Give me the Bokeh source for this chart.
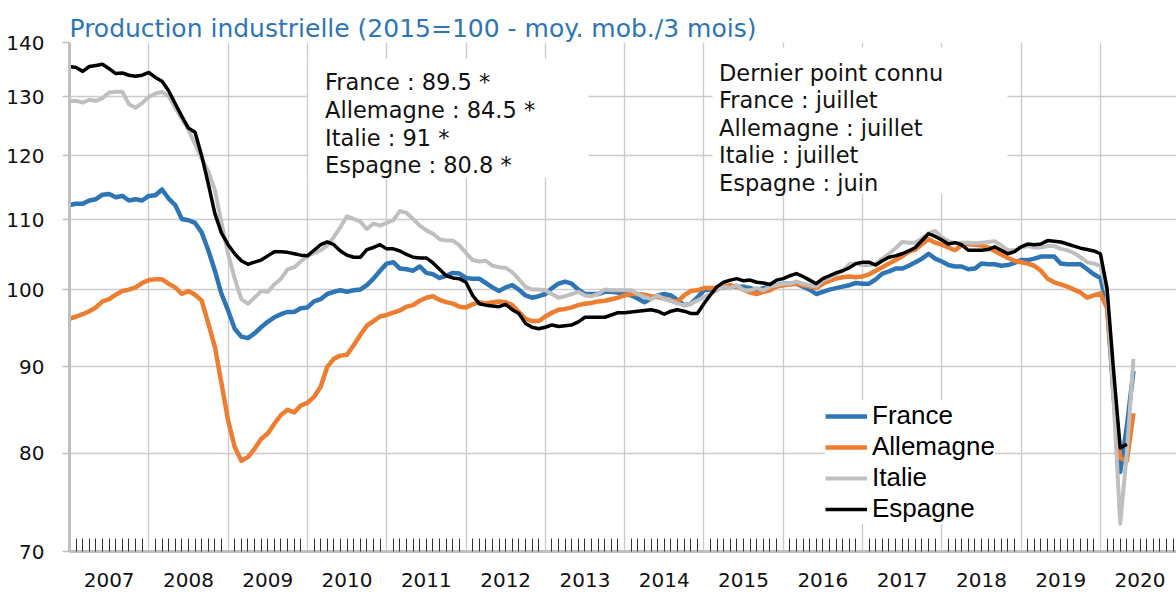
from bokeh.plotting import figure
from bokeh.models import (Range1d, FixedTicker, NumeralTickFormatter, BoxAnnotation,
                          Label, Legend, LegendItem)
from bokeh.embed import file_html
from bokeh.resources import INLINE

# ---------------- data ----------------
first_year = 2007
years = list(range(2007, 2021))
year_labels = [str(y) for y in years]
y_ticks = [70, 80, 90, 100, 110, 120, 130, 140]

france = [
    112.2, 112.4, 112.4, 112.9, 113.1, 113.8, 113.9, 113.4, 113.6, 112.9, 113.1, 112.9,
    113.6, 113.7, 114.6, 113.2, 112.2, 110.1, 109.9, 109.5, 108.1, 105.5, 102.6, 99.4,
    97.2, 94.8, 93.8, 93.6, 94.2, 95.0, 95.7, 96.3, 96.7, 97.0, 97.0, 97.5,
    97.6, 98.4, 98.7, 99.4, 99.7, 99.9, 99.7, 99.9, 100.0, 100.6, 101.5, 102.6,
    103.6, 103.8, 102.9, 102.8, 102.6, 103.2, 102.3, 102.1, 101.6, 101.9, 102.3, 102.2,
    101.6, 101.5, 101.5, 100.9, 100.3, 99.8, 100.3, 100.6, 100.0, 99.2, 98.9, 99.1,
    99.4, 100.2, 100.8, 101.1, 100.8, 100.0, 99.4, 99.4, 99.4, 99.7, 99.7, 99.6,
    99.4, 99.2, 98.8, 98.3, 98.8, 99.2, 99.4, 99.2, 98.6, 97.9, 98.1, 98.9,
    99.9, 100.0, 100.2, 100.3, 100.4, 100.4, 100.4, 100.2, 100.0, 100.2, 100.4, 100.6,
    100.8, 100.8, 100.8, 100.4, 100.0, 99.4, 99.7, 100.0, 100.2, 100.4, 100.6, 100.9,
    100.8, 100.8, 101.4, 102.2, 102.5, 102.9, 102.9, 103.3, 103.8, 104.3, 105.0, 104.3,
    103.9, 103.4, 103.2, 103.2, 102.8, 102.9, 103.6, 103.5, 103.5, 103.3, 103.4, 103.7,
    104.1, 104.1, 104.3, 104.6, 104.6, 104.6, 103.6, 103.5, 103.5, 103.5, 102.8, 102.1,
    101.6, 98.0, 86.5, 78.0, 83.0, 89.5,
]

allemagne = [
    96.1, 96.4, 96.7, 97.1, 97.6, 98.4, 98.7, 99.3, 99.8, 100.0, 100.3, 100.9,
    101.3, 101.4, 101.4, 100.8, 100.3, 99.4, 99.8, 99.3, 98.5, 95.5, 92.5, 88.0,
    83.7, 80.7, 79.2, 79.6, 80.5, 81.6, 82.2, 83.3, 84.3, 84.9, 84.6, 85.4,
    85.7, 86.4, 87.6, 90.0, 91.0, 91.4, 91.5, 92.7, 94.0, 95.2, 95.8, 96.4,
    96.6, 96.9, 97.2, 97.7, 97.9, 98.5, 98.9, 99.1, 98.6, 98.3, 98.1, 97.7,
    97.6, 98.0, 98.3, 98.1, 98.3, 98.4, 98.3, 97.9, 97.0, 96.1, 95.8, 95.8,
    96.4, 96.9, 97.3, 97.4, 97.6, 97.9, 98.1, 98.2, 98.4, 98.5, 98.7, 98.9,
    99.2, 99.4, 99.4, 99.3, 99.1, 99.0, 98.8, 98.5, 98.4, 99.2, 99.8, 99.9,
    100.2, 100.2, 100.2, 100.4, 100.6, 100.4, 100.0, 99.6, 99.4, 99.7, 99.9, 100.4,
    100.6, 100.7, 100.8, 100.6, 100.4, 100.2, 100.8, 101.2, 101.5, 101.7, 101.8, 101.7,
    101.8, 102.1, 102.6, 103.1, 103.6, 104.1, 104.6, 105.3, 105.6, 106.4, 107.1, 106.6,
    106.3, 105.9, 105.5, 106.2, 106.4, 106.3, 106.2, 105.9, 105.4, 104.9, 104.4, 104.0,
    103.8, 103.6, 103.3, 102.6, 101.5, 101.0, 100.7, 100.4, 100.0, 99.6, 98.9, 99.2,
    99.5, 97.5, 87.5, 79.5, 79.2, 84.5,
]

italie = [
    129.3, 129.3, 129.0, 129.5, 129.3, 129.8, 130.8, 130.9, 130.9, 128.7, 128.1, 128.9,
    130.0, 130.6, 130.9, 130.1, 128.1, 126.2, 124.3, 121.9, 119.5, 117.5, 114.5, 109.5,
    105.0, 101.5, 98.7, 98.1, 98.9, 99.8, 99.7, 100.7, 101.5, 102.8, 103.1, 103.9,
    104.7, 105.1, 105.5, 106.2, 107.4, 108.9, 110.5, 110.1, 109.7, 108.6, 109.4, 109.1,
    109.5, 109.9, 111.3, 111.0, 110.1, 109.1, 108.4, 107.9, 107.1, 106.9, 106.9, 106.2,
    105.1, 104.1, 103.9, 104.0, 103.3, 103.1, 103.0, 102.4, 101.4, 100.4, 100.0, 100.0,
    99.9, 99.4, 98.9, 99.1, 99.4, 99.7, 99.2, 99.1, 99.4, 100.0, 99.9, 99.9,
    99.9, 99.9, 99.4, 99.0, 98.7, 99.2, 98.7, 98.5, 98.1, 97.9, 98.1, 98.5,
    99.0, 99.4, 99.9, 100.4, 100.2, 100.6, 99.9, 99.9, 100.2, 99.9, 100.4, 100.6,
    100.8, 100.8, 101.1, 100.8, 100.6, 100.4, 101.3, 101.6, 102.1, 102.6, 103.5, 103.6,
    103.4, 103.4, 103.6, 104.3, 105.0, 105.8, 106.7, 106.6, 106.6, 107.2, 108.0, 108.3,
    107.4, 106.8, 106.5, 106.6, 106.6, 106.5, 106.6, 106.7, 106.8, 106.2, 105.5, 105.5,
    105.9, 106.1, 105.9, 105.9, 106.1, 106.1, 105.7, 105.5, 105.1, 104.5, 103.8, 103.6,
    103.3, 99.5, 86.0, 72.7, 80.0, 91.0,
]

espagne = [
    135.5, 135.3, 134.6, 135.5, 135.7, 135.9, 135.1, 134.2, 134.3, 133.9, 133.7, 133.9,
    134.4, 133.5, 132.8, 131.1, 128.8, 126.6, 124.6, 123.9, 120.0, 115.5, 110.9, 108.0,
    106.3, 105.0, 104.0, 103.5, 103.8, 104.1, 104.7, 105.3, 105.3, 105.2, 105.0, 104.8,
    104.7, 105.5, 106.3, 106.7, 106.3, 105.4, 104.8, 104.5, 104.5, 105.6, 105.9, 106.3,
    105.7, 105.7, 105.4, 104.9, 104.5, 104.4, 104.4, 103.7, 102.8, 101.9, 101.6, 101.5,
    101.0, 99.2, 98.1, 97.9, 97.8, 97.7, 98.0, 97.3, 96.8, 95.5, 95.0, 94.8,
    95.0, 95.3, 95.1, 95.2, 95.3, 95.7, 96.3, 96.3, 96.3, 96.3, 96.6, 96.9,
    96.9, 97.0, 97.1, 97.2, 97.3, 97.1, 96.7, 97.1, 97.3, 97.1, 96.8, 96.8,
    98.1, 99.3, 100.4, 101.0, 101.3, 101.5, 101.2, 101.3, 101.0, 100.9, 100.7, 101.3,
    101.5, 101.9, 102.2, 101.8, 101.3, 100.8, 101.5, 101.9, 102.3, 102.6, 103.0, 103.6,
    103.8, 103.8, 103.4, 104.0, 104.5, 104.7, 105.0, 105.4, 105.9, 106.9, 107.9, 107.5,
    107.0, 106.4, 106.6, 106.3, 105.5, 105.5, 105.5, 105.6, 106.0, 105.5, 105.0, 105.3,
    106.0, 106.4, 106.3, 106.4, 106.9, 106.8, 106.7, 106.4, 106.1, 105.8, 105.6, 105.4,
    105.0, 100.2, 89.5, 80.6, 81.0,
]

series_names = ["France", "Allemagne", "Italie", "Espagne"]
series_values = [france, allemagne, italie, espagne]
series_colors = ["#2E75B6", "#ED7D31", "#BFBFBF", "#000000"]
series_widths = [4.5, 4.5, 4.0, 3.5]

title_text = "Production industrielle (2015=100 - moy. mob./3 mois)"
note_values = ["France : 89.5 *", "Allemagne : 84.5 *", "Italie : 91 *", "Espagne : 80.8 *"]
note_last = ["Dernier point connu", "France : juillet", "Allemagne : juillet",
             "Italie : juillet", "Espagne : juin"]

# ---------------- layout ----------------
FONT = "DejaVu Sans"
GRID = "#CBCBCB"
AXIS = "#BFBFBF"

W, H = 1176, 596
PAGE_L, PAGE_R, PAGE_T, PAGE_B = 69, 1176, 42, 551
YEAR_PX = 79.3
X0 = 2007
X1 = X0 + (PAGE_R - PAGE_L) / YEAR_PX
Y0, Y1 = 70, 140


def px_x(px):
    return X0 + (px - PAGE_L) / (PAGE_R - PAGE_L) * (X1 - X0)


def py_y(py):
    return Y1 * (Y0 / Y1) ** ((py - PAGE_T) / (PAGE_B - PAGE_T))


def month_x(n):
    return [first_year + i / 12 for i in range(n)]


p = figure(width=W, height=H, output_backend="svg", toolbar_location=None,
           y_axis_type="log", x_range=Range1d(X0, X1), y_range=Range1d(Y0, Y1),
           min_border_left=PAGE_L, min_border_right=W - PAGE_R,
           min_border_top=PAGE_T, min_border_bottom=H - PAGE_B)
p.outline_line_color = None
p.background_fill_color = "white"
p.border_fill_color = "white"

# title
p.title.text = title_text
p.title.text_font = FONT
p.title.text_font_size = "25px"
p.title.text_font_style = "normal"
p.title.text_color = "#2E75B6"
p.title.align = "left"
p.title.standoff = 0
p.title.offset = 0

# grids
p.xgrid.ticker = FixedTicker(ticks=years[1:])
p.ygrid.ticker = FixedTicker(ticks=y_ticks)
for g in (p.xgrid[0], p.ygrid[0]):
    g.grid_line_color = GRID
    g.grid_line_width = 1.4

# x axis: labels centred in each year, monthly marks inside the plot
months = [first_year + i / 12 for i in range(1, 168) if i % 12 != 0]
xa = p.xaxis[0]
xa.ticker = FixedTicker(ticks=[y + 0.5 for y in years], minor_ticks=months)
xa.major_label_overrides = {y + 0.5: lab for y, lab in zip(years, year_labels)}
xa.major_tick_in = 0
xa.major_tick_out = 0
xa.minor_tick_in = 13
xa.minor_tick_out = 0
xa.minor_tick_line_color = "#333333"
xa.minor_tick_line_width = 1
xa.axis_line_color = AXIS
xa.axis_line_width = 3
xa.major_label_standoff = 21
xa.major_label_text_font = FONT
xa.major_label_text_font_size = "20px"
xa.major_label_text_color = "#111111"

# year separators below the axis
for y in years:
    p.add_layout(BoxAnnotation(left=y, right=y, top=py_y(PAGE_B), bottom=py_y(H + 10),
                               fill_alpha=0, line_color=GRID, line_width=1.4))

# y axis
ya = p.yaxis[0]
ya.ticker = FixedTicker(ticks=y_ticks)
ya.formatter = NumeralTickFormatter(format="0")
ya.major_tick_out = 7
ya.major_tick_in = 0
ya.major_tick_line_color = AXIS
ya.major_tick_line_width = 1.4
ya.minor_tick_in = 0
ya.minor_tick_out = 0
ya.axis_line_color = AXIS
ya.axis_line_width = 3
ya.major_label_standoff = 18
ya.major_label_text_font = FONT
ya.major_label_text_font_size = "20px"
ya.major_label_text_color = "#111111"

# series
renderers = []
for name, vals, col, w in zip(series_names, series_values, series_colors, series_widths):
    r = p.line(month_x(len(vals)), vals, line_color=col, line_width=w, line_join="round")
    renderers.append(r)

# text boxes
box1 = BoxAnnotation(left=px_x(308), right=px_x(588), top=py_y(58), bottom=py_y(177),
                     fill_color="white", fill_alpha=1.0, line_color=None)
box2 = BoxAnnotation(left=px_x(712), right=px_x(1007), top=py_y(47), bottom=py_y(193),
                     fill_color="white", fill_alpha=1.0, line_color=None)
p.add_layout(box1)
p.add_layout(box2)

NOTE_SIZE = "22.5px"
for k, t in enumerate(note_values):
    p.add_layout(Label(x=px_x(324.5), y=py_y(81.5 + 27.8 * k), text=t, text_font=FONT,
                       text_font_size=NOTE_SIZE, text_color="#111111",
                       text_baseline="alphabetic", text_align="left"))
for k, t in enumerate(note_last):
    p.add_layout(Label(x=px_x(718.5), y=py_y(72 + 27.5 * k), text=t, text_font=FONT,
                       text_font_size=NOTE_SIZE, text_color="#111111",
                       text_baseline="alphabetic", text_align="left"))

# legend
legend = Legend(items=[LegendItem(label=n, renderers=[r]) for n, r in zip(series_names, renderers)],
                location=(825 - PAGE_L, PAGE_B - 524), orientation="vertical",
                glyph_width=42, glyph_height=30, label_height=30, label_standoff=5,
                spacing=0, padding=2, margin=0,
                background_fill_color="white", background_fill_alpha=1.0,
                border_line_color=None,
                label_text_font="Liberation Sans", label_text_font_size="26px",
                label_text_color="#000000")
p.add_layout(legend)

open("out.html", "w").write(file_html(p, INLINE))
